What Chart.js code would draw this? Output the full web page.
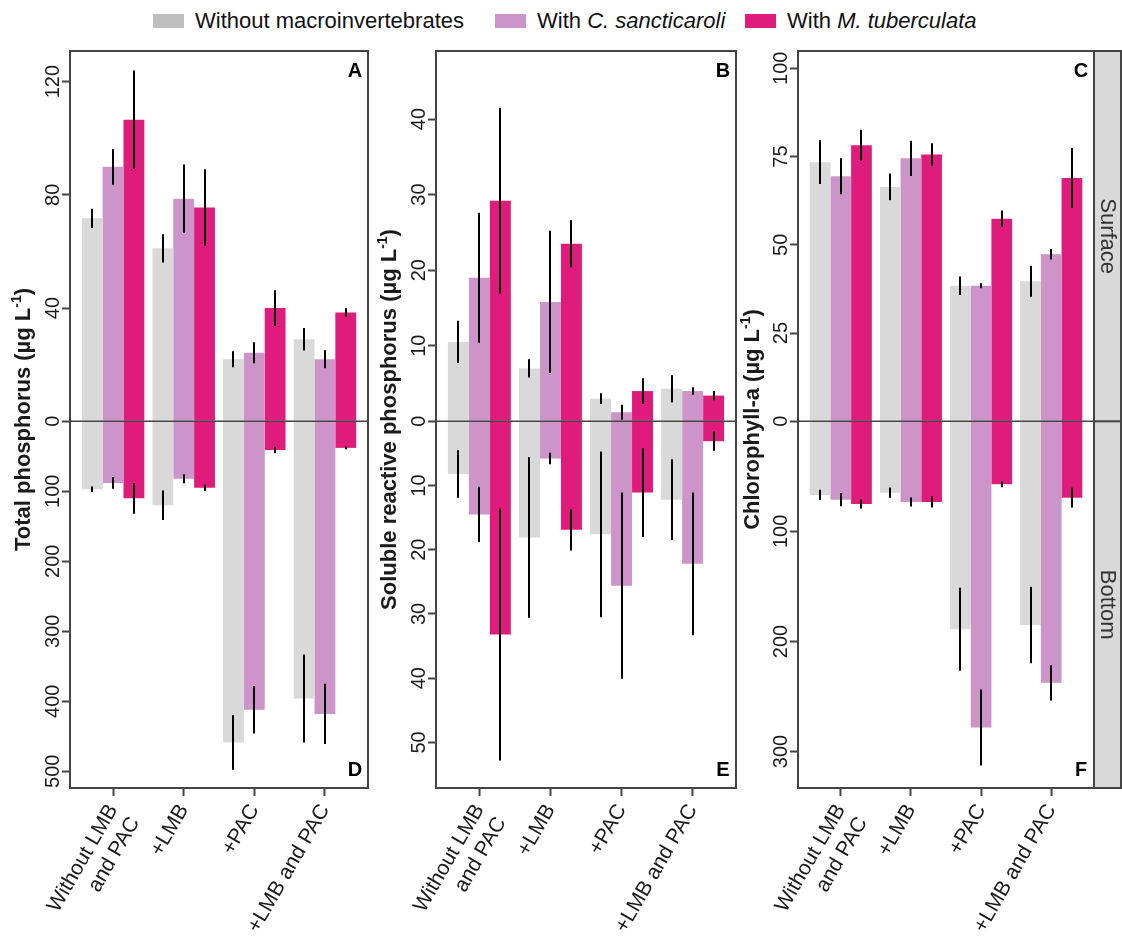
<!DOCTYPE html>
<html>
<head>
<meta charset="utf-8">
<script src="https://cdn.jsdelivr.net/npm/chart.js@4.4.0/dist/chart.umd.min.js"></script>
<style>
  body { margin: 0; background: #fff; font-family: "Liberation Sans", Arial, sans-serif; }
  #wrap { position: relative; width: 1122px; height: 940px; overflow: hidden; }
  .panel { position: absolute; top: 0; }
  .leg { position: absolute; top: 9px; height: 24px; display: flex; align-items: center; font-size: 22px; white-space: nowrap; color: #111; }
  .sw { display: inline-block; width: 31px; height: 14px; margin-right: 11px; }
</style>
</head>
<body>
<div id="wrap">
  <div id="legend"></div>
  <canvas id="chartA" class="panel" width="372" height="940" style="left:0px"></canvas>
  <canvas id="chartB" class="panel" width="368" height="940" style="left:372px"></canvas>
  <canvas id="chartC" class="panel" width="382" height="940" style="left:740px"></canvas>
</div>
<script>
// categories + groups
const categories = [['Without LMB', 'and PAC'], '+LMB', '+PAC', '+LMB and PAC'];
const groups = ['Without macroinvertebrates', 'With C. sancticaroli', 'With M. tuberculata'];

// rows: without macroinvertebrates / C. sancticaroli / M. tuberculata
const tpSurface = [[71.7, 61.1, 21.9, 29.0], [89.9, 78.6, 24.2, 21.9], [106.5, 75.5, 40.0, 38.4]];
const tpSurfaceErr = [[3.4, 5.0, 2.8, 4.0], [6.3, 12.1, 3.7, 3.2], [17.4, 13.5, 6.3, 1.5]];
const tpBottom = [[97, 120, 459, 396], [88, 82, 412, 418], [110, 95, 41, 38]];
const tpBottomErr = [[4, 21, 39, 63], [8.5, 6.5, 34, 43], [22, 4.5, 4.5, 2]];
const tpTopTicks = [0, 40, 80, 120];
const tpBottomTicks = [100, 200, 300, 400, 500];

const srpSurface = [[10.5, 7.0, 3.0, 4.3], [19.0, 15.8, 1.2, 4.0], [29.2, 23.5, 4.0, 3.4]];
const srpSurfaceErr = [[2.8, 1.2, 0.7, 1.8], [8.6, 9.4, 1.0, 0.5], [12.3, 3.1, 1.7, 0.6]];
const srpBottom = [[8.2, 18.1, 17.6, 12.2], [14.5, 5.8, 25.6, 22.2], [33.2, 16.9, 11.1, 3.1]];
const srpBottomErr = [[3.7, 12.5, 12.9, 6.3], [4.3, 0.9, 14.5, 11.1], [19.6, 3.2, 6.9, 1.5]];
const srpTopTicks = [0, 10, 20, 30, 40];
const srpBottomTicks = [10, 20, 30, 40, 50];

const chlSurface = [[73.4, 66.4, 38.4, 39.7], [69.4, 74.5, 38.4, 47.3], [78.2, 75.6, 57.4, 68.9]];
const chlSurfaceErr = [[6.2, 3.8, 2.6, 4.4], [5.1, 5.0, 0.7, 1.5], [4.4, 3.2, 2.3, 8.5]];
const chlBottom = [[66.9, 64.8, 188.9, 185], [71.2, 73.3, 278.2, 237.6], [75.1, 73.3, 57.2, 69.4]];
const chlBottomErr = [[4.7, 4.7, 37.8, 34.7], [6, 4, 34.5, 16], [4, 5, 2.7, 9]];
const chlTopTicks = [0, 25, 50, 75, 100];
const chlBottomTicks = [100, 200, 300];

const colors = ['#d9d9d9', '#cc94c8', '#df1c7b'];
const legendColors = ['#bebebe', '#cc94c8', '#df1c7b'];
const FONT = '"Liberation Sans", Arial, sans-serif';
Chart.defaults.font.family = FONT;

// plot box in page pixels (same for all three panels)
const TOP = 51, ZERO = 421.3, BOTTOM = 788;

// legend
const legendLeft = [153, 495, 745];
groups.forEach((g, i) => {
  const d = document.createElement('div');
  d.className = 'leg';
  d.style.left = legendLeft[i] + 'px';
  const sw = '<span class="sw" style="background:' + legendColors[i] + '"></span>';
  d.innerHTML = g.startsWith('With ') ? sw + 'With&nbsp;<i>' + g.slice(5) + '</i>' : sw + g;
  document.getElementById('legend').appendChild(d);
});

function bars(values, errs, axis, g) {
  return {
    label: groups[g],
    data: values.map((v, i) => ({ x: i, y: v })),
    errors: errs,
    yAxisID: axis,
    stack: 's' + g,
    backgroundColor: colors[g],
    borderWidth: 0,
    categoryPercentage: 0.885,
    barPercentage: 1
  };
}

function makeExtras(o) {
  return {
    id: 'extras',
    afterDatasetsDraw(chart) {
      const ctx = chart.ctx;
      ctx.save();
      ctx.strokeStyle = '#000';
      ctx.lineWidth = 2;
      chart.data.datasets.forEach((ds, i) => {
        const scale = chart.scales[ds.yAxisID];
        chart.getDatasetMeta(i).data.forEach((bar, j) => {
          const v = ds.data[j].y, e = ds.errors[j];
          ctx.beginPath();
          ctx.moveTo(Math.round(bar.x), scale.getPixelForValue(v - e));
          ctx.lineTo(Math.round(bar.x), scale.getPixelForValue(v + e));
          ctx.stroke();
        });
      });
      ctx.restore();
    },
    afterDraw(chart) {
      const ctx = chart.ctx, a = chart.chartArea;
      const yTop = chart.scales.yTop, yBot = chart.scales.yBot;
      ctx.save();
      // zero line
      const z = yTop.getPixelForValue(0);
      ctx.strokeStyle = '#444';
      ctx.lineWidth = 1.5;
      ctx.beginPath();
      ctx.moveTo(a.left, z);
      ctx.lineTo(a.right, z);
      ctx.stroke();
      // frame
      ctx.lineWidth = 2;
      ctx.strokeRect(a.left, a.top, a.right - a.left, a.bottom - a.top);

      // y tick labels, rotated like R
      ctx.fillStyle = '#1a1a1a';
      ctx.font = '20px ' + FONT;
      const tick = (scale, v) => {
        ctx.save();
        ctx.translate(a.left - 11, scale.getPixelForValue(v));
        ctx.rotate(-Math.PI / 2);
        ctx.textAlign = 'center';
        ctx.textBaseline = 'alphabetic';
        ctx.fillText(String(v), 0, 0);
        ctx.restore();
      };
      o.topTicks.forEach(v => tick(yTop, v));
      o.botTicks.forEach(v => tick(yBot, v));

      // axis title with superscript
      ctx.save();
      ctx.translate(o.titleX, (a.top + a.bottom) / 2);
      ctx.rotate(-Math.PI / 2);
      ctx.textBaseline = 'middle';
      ctx.textAlign = 'left';
      const bold = 'bold 22px ' + FONT, small = 'bold 14px ' + FONT;
      const p1 = o.title + ' (µg L', p2 = '-1', p3 = ')';
      ctx.font = bold; const w1 = ctx.measureText(p1).width, w3 = ctx.measureText(p3).width;
      ctx.font = small; const w2 = ctx.measureText(p2).width;
      let x = -(w1 + w2 + w3) / 2;
      ctx.font = bold; ctx.fillText(p1, x, 0); x += w1;
      ctx.font = small; ctx.fillText(p2, x, -7); x += w2;
      ctx.font = bold; ctx.fillText(p3, x, 0);
      ctx.restore();

      // panel letters
      ctx.font = 'bold 20px ' + FONT;
      ctx.textAlign = 'center';
      ctx.textBaseline = 'middle';
      ctx.fillStyle = '#000';
      ctx.fillText(o.letters[0], a.right - 13, a.top + 20);
      ctx.fillText(o.letters[1], a.right - 13, a.bottom - 18);

      // facet strip
      if (o.strip) {
        const sx = a.right, sw = chart.width - 1 - a.right;
        ctx.fillStyle = '#d9d9d9';
        ctx.fillRect(sx, a.top, sw, a.bottom - a.top);
        ctx.strokeStyle = '#444';
        ctx.lineWidth = 2;
        ctx.strokeRect(sx, a.top, sw, a.bottom - a.top);
        ctx.beginPath();
        ctx.moveTo(sx, z);
        ctx.lineTo(sx + sw, z);
        ctx.stroke();
        ctx.fillStyle = '#333';
        ctx.font = '22px ' + FONT;
        [['Surface', (a.top + z) / 2], ['Bottom', (z + a.bottom) / 2]].forEach(([t, y]) => {
          ctx.save();
          ctx.translate(sx + sw / 2, y);
          ctx.rotate(Math.PI / 2);
          ctx.fillText(t, 0, 0);
          ctx.restore();
        });
      }
      ctx.restore();
    }
  };
}

function panel(id, o) {
  const up = ZERO - TOP, down = BOTTOM - ZERO;
  const datasets = [];
  for (let g = 0; g < 3; g++) datasets.push(bars(o.surf[g], o.surfErr[g], 'yTop', g));
  for (let g = 0; g < 3; g++) datasets.push(bars(o.bot[g], o.botErr[g], 'yBot', g));
  const tickGrid = { offset: false, drawOnChartArea: false, drawTicks: true, tickLength: 8, tickColor: '#444', tickWidth: 2 };
  new Chart(document.getElementById(id), {
    type: 'bar',
    data: { datasets: datasets },
    options: {
      responsive: false,
      animation: false,
      layout: { padding: { top: TOP, right: o.rightPad, left: 0, bottom: 0 } },
      plugins: { legend: { display: false }, tooltip: { enabled: false } },
      scales: {
        x: {
          type: 'linear', min: -0.61, max: 3.61, offset: false,
          afterBuildTicks: s => { s.ticks = categories.map((c, i) => ({ value: i })); },
          afterFit: s => { s.height = 940 - BOTTOM; },
          ticks: { callback: v => categories[v], autoSkip: false, minRotation: 60, maxRotation: 60,
                   padding: 4, color: '#1a1a1a', font: { size: 21 } },
          grid: tickGrid,
          border: { display: false }
        },
        yTop: {
          type: 'linear', position: 'left', weight: 1, stacked: false,
          min: -o.topMax * down / up, max: o.topMax,
          afterBuildTicks: s => { s.ticks = o.topTicks.map(v => ({ value: v })); },
          afterFit: s => { s.width = o.axisW; },
          ticks: { display: false },
          grid: tickGrid,
          border: { display: false }
        },
        yBot: {
          type: 'linear', position: 'left', weight: 0, stacked: false, reverse: true,
          min: -o.botMax * up / down, max: o.botMax,
          afterBuildTicks: s => { s.ticks = o.botTicks.map(v => ({ value: v })); },
          afterFit: s => { s.width = 0; },
          ticks: { display: false },
          grid: tickGrid,
          border: { display: false }
        }
      }
    },
    plugins: [makeExtras(o)]
  });
}

panel('chartA', {
  surf: tpSurface, surfErr: tpSurfaceErr, bot: tpBottom, botErr: tpBottomErr,
  topTicks: tpTopTicks, botTicks: tpBottomTicks, topMax: 130.8, botMax: 523.9,
  axisW: 70, rightPad: 4, titleX: 24, title: 'Total phosphorus', letters: ['A', 'D']
});
panel('chartB', {
  surf: srpSurface, surfErr: srpSurfaceErr, bot: srpBottom, botErr: srpBottomErr,
  topTicks: srpTopTicks, botTicks: srpBottomTicks, topMax: 49.0, botMax: 57.1,
  axisW: 64, rightPad: 4, titleX: 18, title: 'Soluble reactive phosphorus', letters: ['B', 'E']
});
panel('chartC', {
  surf: chlSurface, surfErr: chlSurfaceErr, bot: chlBottom, botErr: chlBottomErr,
  topTicks: chlTopTicks, botTicks: chlBottomTicks, topMax: 104.9, botMax: 333.1,
  axisW: 58, rightPad: 28, titleX: 13, title: 'Chlorophyll-a', letters: ['C', 'F'], strip: true
});
</script>
</body>
</html>
